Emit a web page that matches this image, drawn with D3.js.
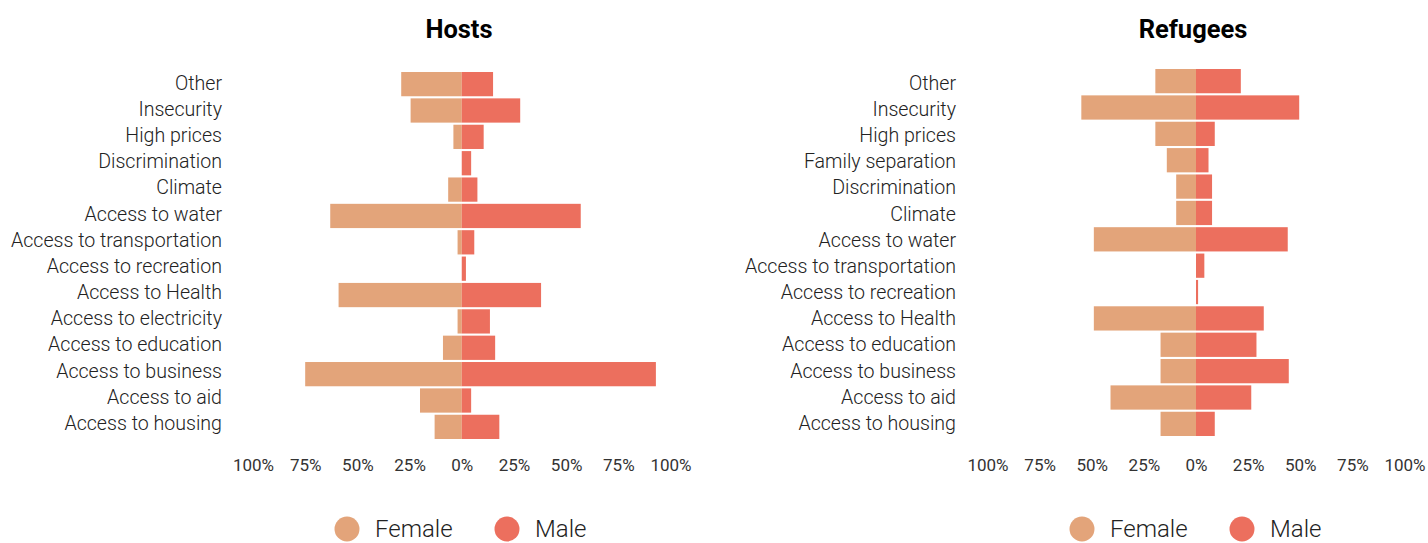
<!DOCTYPE html>
<html><head><meta charset="utf-8">
<script src="https://cdn.jsdelivr.net/npm/d3@7"></script>
<style>
body{margin:0;background:#fff;}
svg{display:block;font-family:Roboto,"Noto Sans",sans-serif;}
</style></head><body>
<svg id="c" width="1428" height="543"></svg>
<script>
const hostCategories = ["Other","Insecurity","High prices","Discrimination","Climate","Access to water","Access to transportation","Access to recreation","Access to Health","Access to electricity","Access to education","Access to business","Access to aid","Access to housing"];
const hostFemale = [29,24.5,4,0,6.5,63,2,0,59,2,9,75,20,13];
const hostMale   = [15,28,10.5,4.5,7.5,57,6,2,38,13.5,16,93,4.5,18];

const refCategories = ["Other","Insecurity","High prices","Family separation","Discrimination","Climate","Access to water","Access to transportation","Access to recreation","Access to Health","Access to education","Access to business","Access to aid","Access to housing"];
const refFemale = [19.5,55,19.5,14,9.5,9.5,49,0,0,49,17,17,41,17];
const refMale   = [21.5,49.5,9,6,7.7,7.7,44,4,1,32.5,29,44.5,26.5,9];

const tickValues = [-100,-75,-50,-25,0,25,50,75,100];
const seriesNames = ["Female","Male"];
const colors = {Female:"#E3A47A", Male:"#EC6F5E"};

const svg = d3.select("#c");

function panel(cfg){
  const g = svg.append("g");
  const x = d3.scaleLinear().domain([-100,100]).range(cfg.xr);
  const y = d3.scaleBand().domain(cfg.cats).range(cfg.yr).paddingInner(0.08).paddingOuter(0);
  const ly = d3.scalePoint().domain(cfg.cats).range([83,423]);
  g.append("text").attr("x",cfg.titleX).attr("y",38).attr("text-anchor","middle")
    .attr("font-size",25.5).attr("font-weight","bold").attr("fill","#000").text(cfg.title);
  g.selectAll(".f").data(cfg.cats).join("rect")
    .attr("x",(d,i)=>x(-cfg.female[i])).attr("width",(d,i)=>x(0)-x(-cfg.female[i]))
    .attr("y",d=>y(d)).attr("height",y.bandwidth()).attr("fill",colors.Female);
  g.selectAll(".m").data(cfg.cats).join("rect")
    .attr("x",x(0)).attr("width",(d,i)=>x(cfg.male[i])-x(0))
    .attr("y",d=>y(d)).attr("height",y.bandwidth()).attr("fill",colors.Male);
  g.selectAll(".lab").data(cfg.cats).join("text")
    .attr("x",cfg.labelX).attr("y",d=>ly(d)).attr("dy","0.35em")
    .attr("text-anchor","end").attr("font-size",19.6).attr("font-weight",300).attr("fill","#222").text(d=>d);
  const ax = g.append("g").attr("transform",`translate(0,${cfg.axisY})`)
    .call(d3.axisBottom(x).tickValues(tickValues).tickSize(0).tickFormat(d=>Math.abs(d)+"%"));
  ax.select(".domain").remove();
  ax.selectAll("text").attr("font-size",17).attr("fill","#333").attr("font-family","Roboto,sans-serif");
  const lg = g.append("g");
  seriesNames.forEach((s,i)=>{
    const cx = cfg.legX + i*160;
    lg.append("circle").attr("cx",cx).attr("cy",529).attr("r",12.5).attr("fill",colors[s]);
    lg.append("text").attr("x",cx+28).attr("y",537)
      .attr("font-size",24).attr("font-weight",300).attr("fill","#222").text(s);
  });
}

panel({title:"Hosts",titleX:459,cats:hostCategories,female:hostFemale,male:hostMale,
  xr:[253,670.5],yr:[72,439],labelX:222,axisY:456,legX:347});
panel({title:"Refugees",titleX:1193,cats:refCategories,female:refFemale,male:refMale,
  xr:[987.5,1404.5],yr:[69,436],labelX:956,axisY:456,legX:1082});
</script>
</body></html>
